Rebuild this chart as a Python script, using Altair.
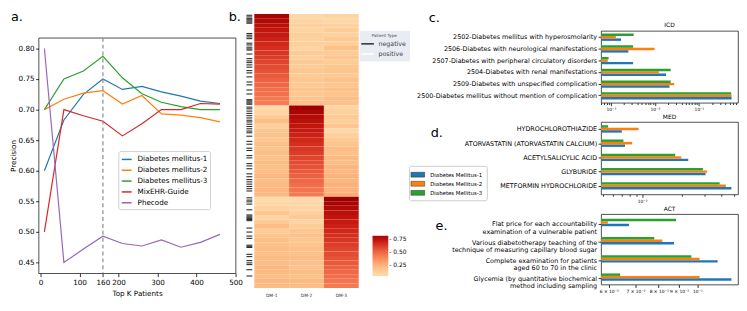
import altair as alt
import pandas as pd

FONT = "DejaVu Sans"

# ---------------- panel a data ----------------
top_k = [10, 60, 110, 160, 210, 260, 310, 360, 410, 460]
prec_dm1 = [0.600, 0.683, 0.725, 0.750, 0.733, 0.738, 0.729, 0.722, 0.714, 0.710]
prec_dm2 = [0.700, 0.717, 0.727, 0.731, 0.709, 0.723, 0.693, 0.691, 0.687, 0.680]
prec_dm3 = [0.700, 0.750, 0.763, 0.787, 0.752, 0.726, 0.712, 0.705, 0.700, 0.700]
prec_mixehr = [0.500, 0.700, 0.690, 0.681, 0.657, 0.677, 0.700, 0.700, 0.710, 0.709]
prec_phecode = [0.800, 0.450, 0.472, 0.493, 0.481, 0.477, 0.487, 0.475, 0.483, 0.496]
a_names = ["Diabetes mellitus-1", "Diabetes mellitus-2", "Diabetes mellitus-3", "MixEHR-Guide", "Phecode"]
a_colors = ["#1f77b4", "#ff7f0e", "#2ca02c", "#d62728", "#9467bd"]
a_xticks = [0, 100, 160, 200, 300, 400, 500]
a_yticks = [0.45, 0.50, 0.55, 0.60, 0.65, 0.70, 0.75, 0.80]
selected_k = [160]

# ---------------- panel b data ----------------
dm_cols = ["DM-1", "DM-2", "DM-3"]
b1_dm1 = [0.82, 0.79, 0.76, 0.74, 0.72, 0.70, 0.68, 0.66, 0.64, 0.62, 0.60, 0.58, 0.56, 0.54, 0.52, 0.50, 0.48, 0.47, 0.45, 0.43]
b1_dm2 = [0.07, 0.09, 0.11, 0.08, 0.12, 0.10, 0.12, 0.09, 0.14, 0.11, 0.15, 0.13, 0.16, 0.14, 0.16, 0.15, 0.18, 0.16, 0.17, 0.19]
b1_dm3 = [0.09, 0.07, 0.11, 0.13, 0.10, 0.15, 0.12, 0.20, 0.14, 0.17, 0.13, 0.16, 0.18, 0.15, 0.19, 0.17, 0.20, 0.18, 0.21, 0.19]
b2_dm1 = [0.05, 0.09, 0.14, 0.21, 0.11, 0.17, 0.19, 0.16, 0.20, 0.18, 0.21, 0.19, 0.22, 0.20, 0.21, 0.23, 0.21, 0.22, 0.24, 0.23]
b2_dm2 = [0.84, 0.81, 0.78, 0.76, 0.74, 0.72, 0.70, 0.68, 0.66, 0.64, 0.62, 0.60, 0.58, 0.56, 0.54, 0.52, 0.50, 0.48, 0.46, 0.44]
b2_dm3 = [0.09, 0.11, 0.14, 0.12, 0.17, 0.07, 0.11, 0.15, 0.18, 0.21, 0.19, 0.22, 0.21, 0.24, 0.23, 0.25, 0.24, 0.26, 0.25, 0.27]
b3_dm1 = [0.05, 0.06, 0.11, 0.17, 0.09, 0.15, 0.21, 0.13, 0.18, 0.20, 0.19, 0.21, 0.20, 0.22, 0.21, 0.23, 0.22, 0.21, 0.23, 0.22]
b3_dm2 = [0.05, 0.07, 0.09, 0.11, 0.15, 0.08, 0.13, 0.17, 0.19, 0.16, 0.18, 0.20, 0.19, 0.21, 0.20, 0.19, 0.21, 0.20, 0.22, 0.21]
b3_dm3 = [0.85, 0.82, 0.79, 0.76, 0.74, 0.72, 0.70, 0.68, 0.66, 0.64, 0.62, 0.60, 0.58, 0.56, 0.54, 0.52, 0.50, 0.48, 0.46, 0.44]
patients_per_bin = 8
n_patients = 480
negative_idx = [2, 5, 8, 10, 12, 14, 16, 34, 37, 40, 43, 51, 54, 58, 61, 63, 70, 78, 82, 85, 89, 93,
                99, 103, 110, 119, 124, 133, 140, 150, 152, 154, 156, 158, 163, 166, 170, 174, 178,
                182, 186, 189, 193, 197, 201, 205, 208, 214, 223, 228, 235, 239, 248, 252, 262, 266,
                271, 280, 285, 290, 294, 298, 302, 306, 310, 322, 326, 329, 333, 343, 352, 354, 356,
                358, 360, 362, 375, 382, 389, 393, 405, 407, 409, 421, 425, 432, 436, 439, 448, 459]
patient_types = ["negative", "positive"]
colorbar_ticks = [0.25, 0.50, 0.75]

# ---------------- panels c, d, e data ----------------
models = ["Diabetes Mellitus-1", "Diabetes Mellitus-2", "Diabetes Mellitus-3"]
model_colors = ["#1f77b4", "#ff7f0e", "#2ca02c"]

icd_labels = ["2502-Diabetes mellitus with hyperosmolarity",
              "2506-Diabetes with neurological manifestations",
              "2507-Diabetes with peripheral circulatory disorders",
              "2504-Diabetes with renal manifestations",
              "2509-Diabetes with unspecified complication",
              "2500-Diabetes mellitus without mention of complication"]
icd_dm1 = [0.0017, 0.0025, 0.0032, 0.0179, 0.0214, 0.55]
icd_dm2 = [0.0013, 0.0098, 0.00085, 0.0123, 0.0275, 0.55]
icd_dm3 = [0.0033, 0.0032, 0.00089, 0.0228, 0.0228, 0.54]

med_labels = ["HYDROCHLOROTHIAZIDE", "ATORVASTATIN (ATORVASTATIN CALCIUM)",
              "ACETYLSALICYLIC ACID", "GLYBURIDE", "METFORMIN HYDROCHLORIDE"]
med_dm1 = [0.0070, 0.0074, 0.0225, 0.0305, 0.0481]
med_dm2 = [0.0094, 0.0084, 0.0199, 0.0313, 0.0436]
med_dm3 = [0.0055, 0.0072, 0.0179, 0.0291, 0.0391]

act_labels = ["Flat price for each accountability|examination of a vulnerable patient",
              "Various diabetotherapy teaching of the|technique of measuring capillary blood sugar",
              "Complete examination for patients|aged 60 to 70 in the clinic",
              "Glycemia (by quantitative biochemical|method including sampling"]
act_dm1 = [0.0674, 0.0874, 0.1124, 0.1217]
act_dm2 = [0.0597, 0.0817, 0.1013, 0.1013]
act_dm3 = [0.0884, 0.0780, 0.0966, 0.0641]

icd_major = [[0.001, "10⁻³"], [0.01, "10⁻²"], [0.1, "10⁻¹"]]
icd_minor = [0.0006, 0.0007, 0.0008, 0.0009, 0.002, 0.003, 0.004, 0.005, 0.006, 0.007, 0.008, 0.009,
             0.02, 0.03, 0.04, 0.05, 0.06, 0.07, 0.08, 0.09, 0.2, 0.3, 0.4, 0.5, 0.6, 0.7]
med_major = [[0.01, "10⁻²"]]
med_minor = [0.005, 0.006, 0.007, 0.008, 0.009, 0.02, 0.03, 0.04, 0.05]
act_major = [[0.06, "6 × 10⁻²"], [0.07, "7 × 10⁻²"], [0.08, "8 × 10⁻²"], [0.09, "9 × 10⁻²"], [0.1, "10⁻¹"]]
act_minor = []

# ---------------- helpers ----------------
def letter(txt, x, y):
    return alt.Chart(pd.DataFrame({"t": [txt]})).mark_text(
        fontSize=13, align="left", baseline="top", font=FONT, color="black"
    ).encode(text="t:N", x=alt.value(x), y=alt.value(y))


def marker(x, y):
    # invisible point used only to pin the layout extents
    return alt.Chart(pd.DataFrame({"m": [0]})).mark_point(opacity=0, size=1).encode(
        x=alt.value(x), y=alt.value(y))


def spacer(w, h, *extra):
    base = alt.Chart(pd.DataFrame({"a": [0]})).mark_point(opacity=0, size=1).encode(
        x=alt.value(0), y=alt.value(0))
    return alt.layer(base, *extra).properties(
        width=w, height=h, view=alt.ViewBackground(stroke="transparent"))


# ---------------- panel a ----------------
rows_a = []
for name, vals in zip(a_names, [prec_dm1, prec_dm2, prec_dm3, prec_mixehr, prec_phecode]):
    for k, v in zip(top_k, vals):
        rows_a.append({"k": k, "precision": v, "series": name})
df_a = pd.DataFrame(rows_a)

xa = alt.X("k:Q", title="Top K Patients",
           scale=alt.Scale(domain=[-5, 500], nice=False, zero=False),
           axis=alt.Axis(values=a_xticks, tickSize=3.5, labelPadding=1.5, titlePadding=4,
                         labelFontSize=7.3, titleFontSize=7.3, labelFlush=False,
                         labelOverlap=False))
ya = alt.Y("precision:Q", title="Precision",
           scale=alt.Scale(domain=[0.4325, 0.8175], nice=False, zero=False),
           axis=alt.Axis(values=a_yticks, format=".2f", tickSize=3, labelPadding=1.5,
                         titlePadding=1, labelFontSize=7.3, titleFontSize=7.3, labelFlush=False,
                         labelOverlap=False))

lines_a = alt.Chart(df_a).mark_line(strokeWidth=1.2).encode(
    x=xa, y=ya,
    color=alt.Color("series:N", sort=a_names,
                    scale=alt.Scale(domain=a_names, range=a_colors),
                    legend=alt.Legend(orient="none", legendX=81, legendY=115, title=None,
                                      symbolType="stroke", symbolSize=100, symbolStrokeWidth=1.5,
                                      labelFontSize=7.3, labelOffset=5, rowPadding=1,
                                      padding=2.5, fillColor="white", strokeColor="#d0d0d0",
                                      cornerRadius=2, labelLimit=300)),
)
rule_a = alt.Chart(pd.DataFrame({"k": selected_k})).mark_rule(
    color="#8c8c8c", strokeDash=[4, 3], strokeWidth=1.2
).encode(x=xa)

panel_a = alt.layer(lines_a, rule_a, marker(-28, 0), marker(211, 0)).properties(
    width=200, height=239)
col_a = alt.vconcat(spacer(200, 24, letter("a.", -28, -3)), panel_a, spacing=0,
                    bounds="flush").resolve_scale(color="independent")

# ---------------- panel b ----------------
rows_b = []
blocks = [(b1_dm1, b1_dm2, b1_dm3), (b2_dm1, b2_dm2, b2_dm3), (b3_dm1, b3_dm2, b3_dm3)]
r = 0
for blk in blocks:
    for i in range(len(blk[0])):
        for name, vals in zip(dm_cols, blk):
            rows_b.append({"dm": name, "y0": r * patients_per_bin,
                           "y1": (r + 1) * patients_per_bin, "value": vals[i]})
        r += 1
df_b = pd.DataFrame(rows_b)
yscale_b = alt.Scale(domain=[0, n_patients], reverse=True, nice=False, zero=False)

heat = alt.Chart(df_b).mark_rect().encode(
    x=alt.X("dm:N", sort=dm_cols, title=None,
            scale=alt.Scale(paddingInner=0, paddingOuter=0),
            axis=alt.Axis(labelAngle=0, ticks=False, labelFontSize=4.4, labelPadding=6,
                          labelColor="#333333")),
    y=alt.Y("y0:Q", scale=yscale_b, axis=None),
    y2="y1:Q",
    color=alt.Color("value:Q", scale=alt.Scale(scheme="orangered", domain=[0.04, 0.82]),
                    legend=alt.Legend(orient="none", legendX=120, legendY=225, title=None,
                                      direction="vertical", gradientLength=41,
                                      gradientThickness=16, values=colorbar_ticks,
                                      format=".2f", labelFontSize=6, labelOffset=1,
                                      labelExpr="'- ' + datum.label", padding=0,
                                      gradientStrokeWidth=0)),
)
df_pt = pd.DataFrame({"idx": negative_idx, "ptype": ["negative"] * len(negative_idx)})
ticks_b = alt.Chart(df_pt).mark_rule(strokeWidth=1.1).encode(
    y=alt.Y("idx:Q", scale=yscale_b, axis=None),
    x=alt.value(-8), x2=alt.value(-2),
    stroke=alt.Stroke("ptype:N", scale=alt.Scale(domain=patient_types, range=["#2b2b2b", "#ffffff"]),
                      legend=alt.Legend(orient="none", legendX=107, legendY=17, title="Patient Type",
                                        titleFontSize=4.2, titleColor="#444444", titleFontWeight="normal",
                                        titlePadding=1, titleAnchor="middle",
                                        symbolType="M-1.6,0H1.6", symbolSize=64, symbolStrokeWidth=1.5,
                                        labelFontSize=6.4, labelColor="#444444", labelOffset=6,
                                        rowPadding=1.3, padding=3, fillColor="#e9ecf2",
                                        strokeColor="#e9ecf2")),
)
panel_b = alt.layer(heat, ticks_b, letter("b.", -26, -3), marker(-26, -3), marker(165, 0)).resolve_scale(
    color="independent", stroke="independent"
).properties(width=106, height=278, view=alt.ViewBackground(stroke="transparent"))


# ---------------- panels c, d, e ----------------
def bar_panel(cats, vals, title, domain, major, minor, height, p_in, p_out, align,
              legend, extra, multiline=False):
    rows = []
    for m, vs in zip(models, vals):
        for c, v in zip(cats, vs):
            rows.append({"cat": c, "model": m, "value": v, "base": domain[0]})
    df = pd.DataFrame(rows)
    expr = " : ".join([f"datum.value == {t} ? '{lab}'" for t, lab in major]) + " : ''"
    major_vals = ",".join(str(t) for t, _ in major)
    xaxis = alt.Axis(values=sorted([t for t, _ in major] + minor), labelExpr=expr,
                     tickSize={"condition": {"test": f"indexof([{major_vals}], datum.value) >= 0",
                                             "value": 3}, "value": 1.8},
                     labelFontSize=4.5, labelPadding=1, labelOverlap=False, labelFlush=False,
                     title=None)
    yaxis_kw = dict(labelFontSize=6.5, labelLimit=500, tickSize=3, labelPadding=1.5, title=None)
    if multiline:
        yaxis_kw.update(labelExpr="split(datum.label, '|')", labelLineHeight=7.5)
    bars = alt.Chart(df).mark_bar().encode(
        x=alt.X("value:Q", scale=alt.Scale(type="log", domain=domain, nice=False, zero=False),
                axis=xaxis),
        x2="base:Q",
        y=alt.Y("cat:N", sort=cats,
                scale=alt.Scale(paddingInner=p_in, paddingOuter=p_out, align=align),
                axis=alt.Axis(**yaxis_kw)),
        yOffset=alt.YOffset("model:N", sort=models[::-1],
                            scale=alt.Scale(paddingInner=0, paddingOuter=0)),
        color=alt.Color("model:N", scale=alt.Scale(domain=models, range=model_colors),
                        legend=legend),
    )
    return alt.layer(bars, *extra).properties(
        width=139, height=height,
        title=alt.TitleParams(title, fontSize=6, offset=2, fontWeight="normal", font=FONT,
                              frame="group", anchor="middle"),
    )


bar_legend = alt.Legend(orient="none", legendX=-195, legendY=44.5, title=None,
                        labelFontSize=5.5, symbolType="M-1.55,-0.55H1.55V0.55H-1.55Z",
                        symbolSize=81, symbolStrokeColor="#333333", symbolStrokeWidth=0.5,
                        labelOffset=7.5, rowPadding=0.2, padding=4, fillColor="white",
                        strokeColor="#cccccc", cornerRadius=2, labelLimit=300)

panel_c = bar_panel(icd_labels, [icd_dm1, icd_dm2, icd_dm3], "ICD", [0.0006, 0.77],
                    icd_major, icd_minor, 73, 0.37, 0.25, 0.45, None,
                    [marker(-205, 0)])
panel_d = bar_panel(med_labels, [med_dm1, med_dm2, med_dm3], "MED", [0.00486, 0.054],
                    med_major, med_minor, 73.5, 0.41, 0.25, 0.46, bar_legend,
                    [letter("d.", -173, 5)])
panel_e = bar_panel(act_labels, [act_dm1, act_dm2, act_dm3], "ACT", [0.0574, 0.1264],
                    act_major, act_minor, 71.5, 0.39, 0.13, 1.0, None,
                    [letter("e.", -168, 6.2)], multiline=True)

col_cde = alt.vconcat(panel_c, panel_d, panel_e, spacing=19.5, bounds="flush").resolve_scale(
    color="independent")
col_right = alt.vconcat(spacer(139, 17, letter("c.", -175, -2.3)), col_cde, spacing=0,
                        bounds="flush").resolve_scale(color="independent")

chart = alt.hconcat(col_a, panel_b, col_right, spacing=-20).resolve_scale(
    color="independent"
).properties(padding=0).configure(font=FONT).configure_view(
    stroke="#222222", strokeWidth=0.8
).configure_axis(
    labelColor="black", titleColor="black", tickColor="black", tickWidth=0.8,
    labelFont=FONT, titleFont=FONT, titleFontWeight="normal", grid=False, domain=False
).configure_legend(labelFont=FONT, titleFont=FONT, labelColor="black")

chart.save("out.html", embed_options={"renderer": "svg", "actions": False})
